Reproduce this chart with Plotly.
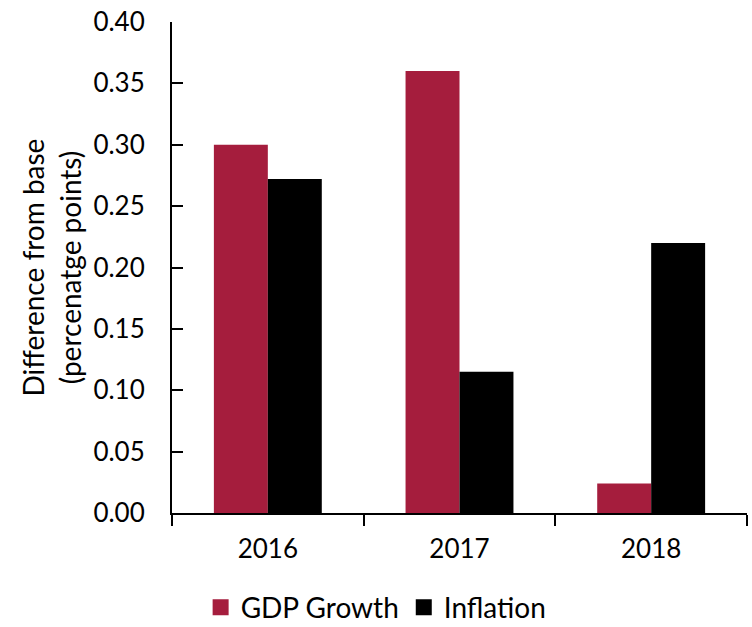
import plotly.graph_objects as go

years = ["2016", "2017", "2018"]
gdp_growth = [0.30, 0.36, 0.024]
inflation = [0.272, 0.115, 0.22]

red = "#A51D3D"
black = "#000000"
font_family = "Lato, Open Sans, sans-serif"

fig = go.Figure()
fig.add_trace(go.Bar(x=years, y=gdp_growth, name="GDP Growth",
                     marker=dict(color=red, line=dict(width=0)), showlegend=False))
fig.add_trace(go.Bar(x=years, y=inflation, name="Inflation",
                     marker=dict(color=black, line=dict(width=0)), showlegend=False))
# legend entries with larger square swatches
for nm, col in [("GDP Growth", red), ("Inflation", black)]:
    fig.add_trace(go.Scatter(x=[None], y=[None], mode="markers", name=nm,
                             marker=dict(symbol="square", size=20, color=col)))

fig.update_layout(
    width=752, height=627,
    margin=dict(l=172, r=5, t=20, b=114),
    paper_bgcolor="white", plot_bgcolor="white",
    barmode="group", bargap=0.437, bargroupgap=0,
    font=dict(family=font_family, size=26, color="black"),
    showlegend=True,
    legend=dict(orientation="h", x=0.355, xanchor="center",
                y=0.031, yref="container", yanchor="middle",
                font=dict(size=28), itemsizing="trace", itemwidth=30,
                tracegroupgap=0, bgcolor="rgba(0,0,0,0)"),
)
fig.update_xaxes(
    type="category", range=[-0.5, 2.5],
    showline=True, linecolor="black", linewidth=2,
    ticks="outside", tickson="boundaries", ticklen=11, tickwidth=2, tickcolor="black",
    ticklabelstandoff=12, tickfont=dict(size=26), showgrid=False, zeroline=False,
)
fig.update_yaxes(
    range=[0, 0.4], dtick=0.05, tickformat=".2f",
    showline=True, linecolor="black", linewidth=2,
    ticks="inside", ticklen=11, tickwidth=2, tickcolor="black",
    ticklabelstandoff=20, tickfont=dict(size=26), showgrid=False, zeroline=False,
    title=dict(text="Difference from base<br>(percenatge points)", font=dict(size=28), standoff=4),
)

fig.write_html("out.html")
